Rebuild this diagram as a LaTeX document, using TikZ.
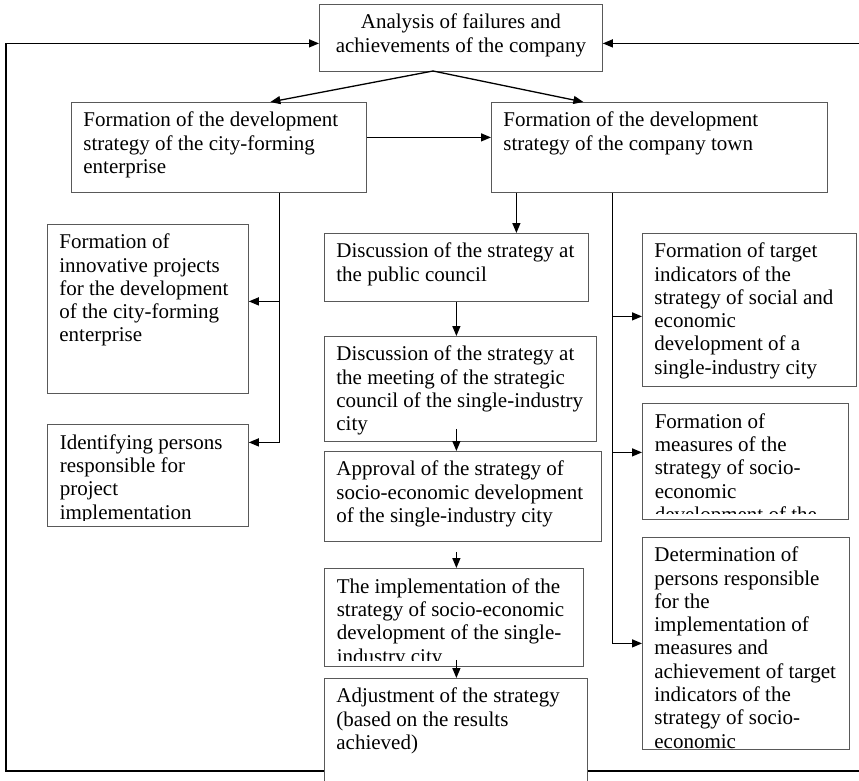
\documentclass[tikz,border=0pt]{standalone}
\usepackage{fontspec}
\setmainfont{Liberation Serif}
\usepackage{tikz}
\usetikzlibrary{arrows.meta}
\usetikzlibrary{calc}

\newcommand{\boxtext}[3]{\parbox[t][#2][t]{#1}{\raggedright\strut #3}}

\begin{document}
\begin{tikzpicture}[x=1pt,y=-1pt,
font=\fontsize{21}{23.3}\selectfont,
box/.style={draw=black!65,line width=0.8pt,fill=white,anchor=north west,inner xsep=12pt,inner ysep=8pt},
link/.style={draw=black,line width=1.3pt,-{Triangle[length=10pt,width=8pt]}},
cut/.style={path picture={
  \clip (path picture bounding box.north west) rectangle ([yshift=6pt]path picture bounding box.south east);
  \node[draw=none,fill=none,anchor=north west,inner xsep=12pt,inner ysep=8pt] at (path picture bounding box.north west) {#1};}}]
\clip (0,0) rectangle (859,781);

\node[box] (ana) at (319,4) {\boxtext{259pt}{51pt}{\centering Analysis of failures and\\ achievements of the company}};

\node[box] (ent) at (71,102) {\boxtext{271pt}{74pt}{Formation of the development\\ strategy of the city-forming\\ enterprise}};
\node[box] (town) at (491,102) {\boxtext{312pt}{74pt}{Formation of the development\\ strategy of the company town}};

% left column
\node[box] (inno) at (47,224) {\boxtext{177pt}{153pt}{Formation of\\ innovative projects\\ for the development\\ of the city-forming\\ enterprise}};
\node[box,minimum width=201pt,minimum height=102pt,
  cut={\boxtext{177pt}{86pt}{Identifying persons\\ responsible for\\ project\\ implementation}}] (pers) at (47,424) {};

% middle column
\node[box] (pub) at (324,233) {\boxtext{240pt}{52pt}{Discussion of the strategy at\\ the public council}};
\node[box] (meet) at (324,336) {\boxtext{248pt}{89pt}{Discussion of the strategy at\\ the meeting of the strategic\\ council of the single-industry\\ city}};
\node[box] (appr) at (324,451) {\boxtext{253pt}{74pt}{Approval of the strategy of\\ socio-economic development\\ of the single-industry city}};
\node[box,minimum width=259pt,minimum height=98pt,
  cut={\boxtext{235pt}{82pt}{The implementation of the\\ strategy of socio-economic\\ development of the single-\\ industry city}}] (impl) at (324,568) {};
\node[box] (adj) at (324,678) {\boxtext{239pt}{104pt}{Adjustment of the strategy\\ (based on the results\\ achieved)}};

% right column
\node[box] (targ) at (642,233) {\boxtext{190pt}{137pt}{Formation of target\\ indicators of the\\ strategy of social and\\ economic\\ development of a\\ single-industry city}};
\node[box,minimum width=206pt,minimum height=116pt,
  cut={\boxtext{182pt}{100pt}{Formation of\\ measures of the\\ strategy of socio-\\ economic\\ development of the}}] (meas) at (642,403) {};
\node[box] (det) at (642,537) {\boxtext{183pt}{196pt}{Determination of\\ persons responsible\\ for the\\ implementation of\\ measures and\\ achievement of target\\ indicators of the\\ strategy of socio-\\ economic}};

\coordinate (split) at (433,71);
\coordinate (fbl) at (6,771);
\coordinate (fbr) at (866,771);

\draw[link] (split) -- ([xshift=51.5pt]ent.north);
\draw[link] (split) -- ([xshift=-76pt]town.north);
\draw[link] ([yshift=10pt]ent.east) -- ([yshift=10pt]ent.east -| town.west);

\draw[link] ([xshift=60.5pt]ent.south) |- ([yshift=7.5pt]inno.east);
\draw[link] ([xshift=60.5pt]ent.south) |- ([yshift=33pt]pers.east);

\draw[link] ([xshift=-143pt]town.south) -- ([xshift=-143pt]town.south |- pub.north);
\draw[link] ([xshift=-47pt]town.south) |- ([yshift=-6.5pt]targ.west);
\draw[link] ([xshift=-47pt]town.south) |- ([yshift=9pt]meas.west);
\draw[link] ([xshift=-47pt]town.south) |- (det.west);

\draw[link] (pub.south) -- (pub.south |- meet.north);
\draw[link] ($(pub.south |- meet.south)+(0,-13)$) -- (pub.south |- appr.north);
\draw[link] ($(pub.south |- appr.south)+(0,10)$) -- (pub.south |- impl.north);
\draw[link] ($(pub.south |- impl.south)+(0,-7)$) -- (pub.south |- adj.north);

% feedback loop
\draw[link] (adj.west |- fbl) -- (fbl) |- ([yshift=-5.5pt]ana.west);
\draw[link] (adj.east |- fbr) -- (fbr) |- ([yshift=-5.5pt]ana.east);
\end{tikzpicture}
\end{document}
